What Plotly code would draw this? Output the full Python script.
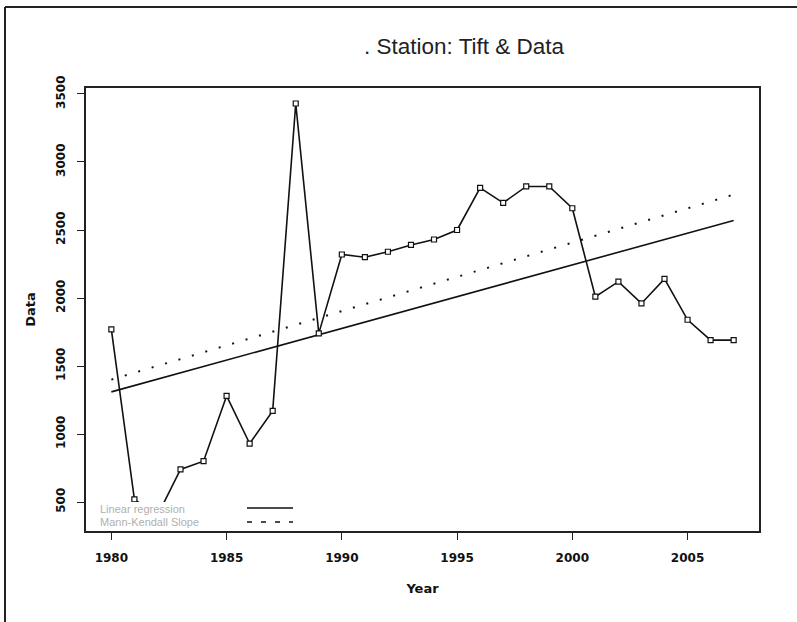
import plotly.graph_objects as go

years = list(range(1980, 2008))
values = [1770, 520, 400, 740, 800, 1280, 930, 1170, 3430, 1740,
          2320, 2300, 2340, 2390, 2430, 2500, 2810, 2700, 2820, 2820,
          2660, 2010, 2120, 1960, 2140, 1840, 1690, 1690]
fit_years = [1980, 2007]
linear_fit = [1310, 2570]
mk_fit = [1400, 2760]
x_ticks = [1980, 1985, 1990, 1995, 2000, 2005]
y_ticks = [500, 1000, 1500, 2000, 2500, 3000, 3500]
legend_labels = ["Linear regression", "Mann-Kendall Slope"]

W, H = 797, 622
L, R, T, B = 86, 759, 88, 531


def px(x):
    return (x - L) / (R - L)


def py(y):
    return (B - y) / (B - T)


fig = go.Figure()
fig.add_trace(go.Scatter(x=fit_years, y=linear_fit, mode="lines",
                         line=dict(color="#111", width=1.6), showlegend=False))
fig.add_trace(go.Scatter(x=fit_years, y=mk_fit, mode="lines",
                         line=dict(color="#111", width=2, dash="2px,12px"),
                         showlegend=False))
fig.add_trace(go.Scatter(x=years, y=values, mode="lines+markers",
                         line=dict(color="#111", width=1.6),
                         marker=dict(symbol="square", size=5, color="white",
                                     line=dict(color="#111", width=1.2)),
                         showlegend=False, cliponaxis=True))

axis_common = dict(showline=True, linecolor="#222", linewidth=1.5, mirror=True,
                   ticks="outside", ticklen=7, tickwidth=1.3, tickcolor="#222",
                   showgrid=False, zeroline=False)

fig.update_layout(
    width=W, height=H,
    margin=dict(l=L, r=W - R, t=T, b=H - B),
    paper_bgcolor="white", plot_bgcolor="white",
    font=dict(family="DejaVu Sans", color="#111"),
    xaxis=dict(range=[1978.9, 2008.1], tickvals=x_ticks,
               ticktext=[str(v) for v in x_ticks],
               tickfont=dict(size=12, weight="bold", family="DejaVu Sans"),
               ticklabelstandoff=8,
               title=dict(text="Year", font=dict(size=13, weight="bold"), standoff=20),
               **axis_common),
    yaxis=dict(range=[287, 3544], tickvals=y_ticks,
               ticktext=[str(v) for v in y_ticks], tickangle=-90,
               tickfont=dict(size=12, weight="bold", family="DejaVu Sans"),
               ticklabelstandoff=7,
               title=dict(text="Data", font=dict(size=13, weight="bold"), standoff=16),
               **axis_common),
    showlegend=False,
)

shapes = [
    # outer frame (top and left)
    dict(type="line", xref="paper", yref="paper", x0=px(5), x1=px(W), y0=py(7), y1=py(7),
         line=dict(color="#222", width=2)),
    dict(type="line", xref="paper", yref="paper", x0=px(5), x1=px(5), y0=py(7), y1=py(H),
         line=dict(color="#222", width=2)),
    # legend background
    dict(type="rect", xref="paper", yref="paper", x0=px(88), x1=px(300), y0=py(529), y1=py(502),
         fillcolor="white", line=dict(width=0), layer="above"),
    # legend samples
    dict(type="line", xref="paper", yref="paper", x0=px(247), x1=px(293), y0=py(508), y1=py(508),
         line=dict(color="#111", width=1.6), layer="above"),
    dict(type="line", xref="paper", yref="paper", x0=px(247), x1=px(293), y0=py(522), y1=py(522),
         line=dict(color="#111", width=1.6, dash="5px,9px"), layer="above"),
]
fig.update_layout(shapes=shapes)

annotations = [
    dict(text=". Station: Tift & Data", xref="paper", yref="paper", x=px(362), y=py(46),
         xanchor="left", yanchor="middle", showarrow=False,
         font=dict(family="Liberation Sans", size=22.5, color="#222")),
    dict(text=legend_labels[0], xref="paper", yref="paper", x=px(98), y=py(509),
         xanchor="left", yanchor="middle", showarrow=False,
         font=dict(family="Liberation Sans", size=11, color="#b0b0b0")),
    dict(text=legend_labels[1], xref="paper", yref="paper", x=px(98), y=py(522),
         xanchor="left", yanchor="middle", showarrow=False,
         font=dict(family="Liberation Sans", size=11, color="#b0b0b0")),
]
fig.update_layout(annotations=annotations)

fig.write_html("out.html", config={"displayModeBar": False},
               post_script="document.body.style.margin='0px';document.body.style.overflow='hidden';")
